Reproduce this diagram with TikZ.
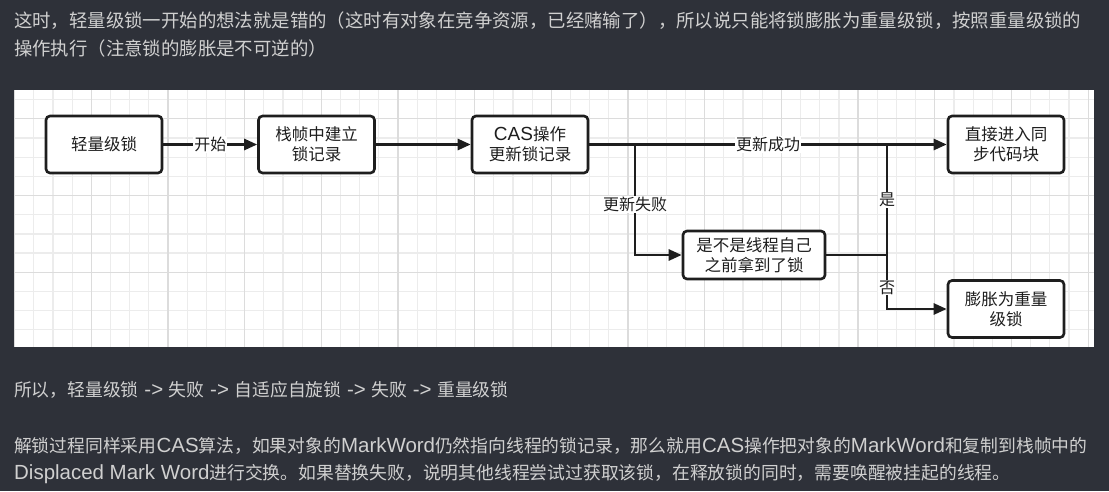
\documentclass[tikz,border=0pt]{standalone}
\usepackage{fontspec}
\setmainfont{Noto Sans CJK SC}
\newfontfamily\lat[Scale=1.15]{Liberation Sans}
\usetikzlibrary{arrows.meta}

\definecolor{page}{RGB}{46,49,57}
\definecolor{prosegray}{RGB}{208,208,208}
\definecolor{gridminor}{RGB}{236,236,236}
\definecolor{gridmajor}{RGB}{220,220,220}
\definecolor{ink}{RGB}{30,30,30}

\newcommand{\en}[1]{{\lat #1}}

\tikzset{
    box/.style = {draw = ink, line width = 2.6pt, rounded corners = 4pt, fill = white, text = ink,
        align = center, minimum width = 116pt, minimum height = 57pt, inner sep = 2pt,
        font = \fontsize{16.5}{20}\selectfont},
    flow/.style = {draw = ink, line width = 2.6pt, -{Triangle[length = 13pt, width = 11pt]}},
    link/.style = {draw = ink, line width = 2.6pt},
    lbl/.style = {fill = white, text = ink, inner sep = 1pt, font = \fontsize{16}{18}\selectfont},
    prose/.style = {anchor = west, text = prosegray, inner sep = 0pt, font = \fontsize{17.8}{28}\selectfont}
}

\begin{document}
\begin{tikzpicture}[x = 1pt, y = -1pt]
        \useasboundingbox (0, 0) rectangle (1109, 491);
        \fill[page] (0, 0) rectangle (1109, 491);

        % the white sheet with its grid
        \fill[white] (14, 90) rectangle (1094, 347);
        \begin{scope}
            \clip (14, 90) rectangle (1094, 347);
            \foreach \i in {0, ..., 57} {
                \draw[gridminor, line width = 1.2pt] ({14.6 + 19.17*\i}, 90) -- ++(0, 257);
            }
            \foreach \i in {0, ..., 14} {
                \draw[gridminor, line width = 1.2pt] (14, {80.55 + 19.17*\i}) -- ++(1080, 0);
            }
            \foreach \i in {0, ..., 14} {
                \draw[gridmajor, line width = 1.2pt] ({14.6 + 76.68*\i}, 90) -- ++(0, 257);
            }
            \foreach \i in {1, ..., 4} {
                \draw[gridmajor, line width = 1.2pt] (14, {42.2 + 76.68*\i}) -- ++(1080, 0);
            }
        \end{scope}

        \node[box] (lock) at (104, 144.5) {轻量级锁};
        \node[box] (frame) at (316.5, 144.5) {栈帧中建立\\锁记录};
        \node[box] (cas) at (530, 144.5) {\en{CAS}操作\\更新锁记录};
        \node[box] (sync) at (1006, 144.5) {直接进入同\\步代码块};
        \node[box, minimum width = 142pt, minimum height = 48pt] (owner) at (754, 255) {是不是线程自己\\之前拿到了锁};
        \node[box] (heavy) at (1006, 309) {膨胀为重量\\级锁};

        \coordinate (split) at (635, 144.5);
        \coordinate (join) at (887, 255);

        \draw[flow] (lock) -- node[lbl] {开始} (frame);
        \draw[flow] (frame) -- (cas);
        \draw[flow] (cas) -- node[lbl] {更新成功} (sync);
        \draw[flow] (split) |- node[lbl, pos = 0.27] {更新失败} (owner);
        \draw[link] (owner) -- (join);
        \draw[link] (join) -- node[lbl] {是} (join |- sync);
        \draw[flow] (join) |- node[lbl, pos = 0.3] {否} (heavy);

        % the text round the sheet
        \node[prose, font = \fontsize{18.4}{28}\selectfont] (intro1) at (14, 21) {这时，轻量级锁一开始的想法就是错的（这时有对象在竞争资源，已经赌输了），所以说只能将锁膨胀为重量级锁，按照重量级锁的};
        \node[prose, font = \fontsize{18.4}{28}\selectfont] (intro2) at (14, 49) {操作执行（注意锁的膨胀是不可逆的）};
        \node[prose] (chain) at (14, 390) {所以，轻量级锁\en{\ ->\ }失败\en{\ ->\ }自适应自旋锁\en{\ ->\ }失败\en{\ ->\ }重量级锁};
        \node[prose] (unlock1) at (14, 446) {解锁过程同样采用\en{CAS}算法，如果对象的\en{MarkWord}仍然指向线程的锁记录，那么就用\en{CAS}操作把对象的\en{MarkWord}和复制到栈帧中的};
        \node[prose] (unlock2) at (14, 474) {\en{Displaced Mark Word}进行交换。如果替换失败，说明其他线程尝试过获取该锁，在释放锁的同时，需要唤醒被挂起的线程。};
    \end{tikzpicture}
\end{document}
